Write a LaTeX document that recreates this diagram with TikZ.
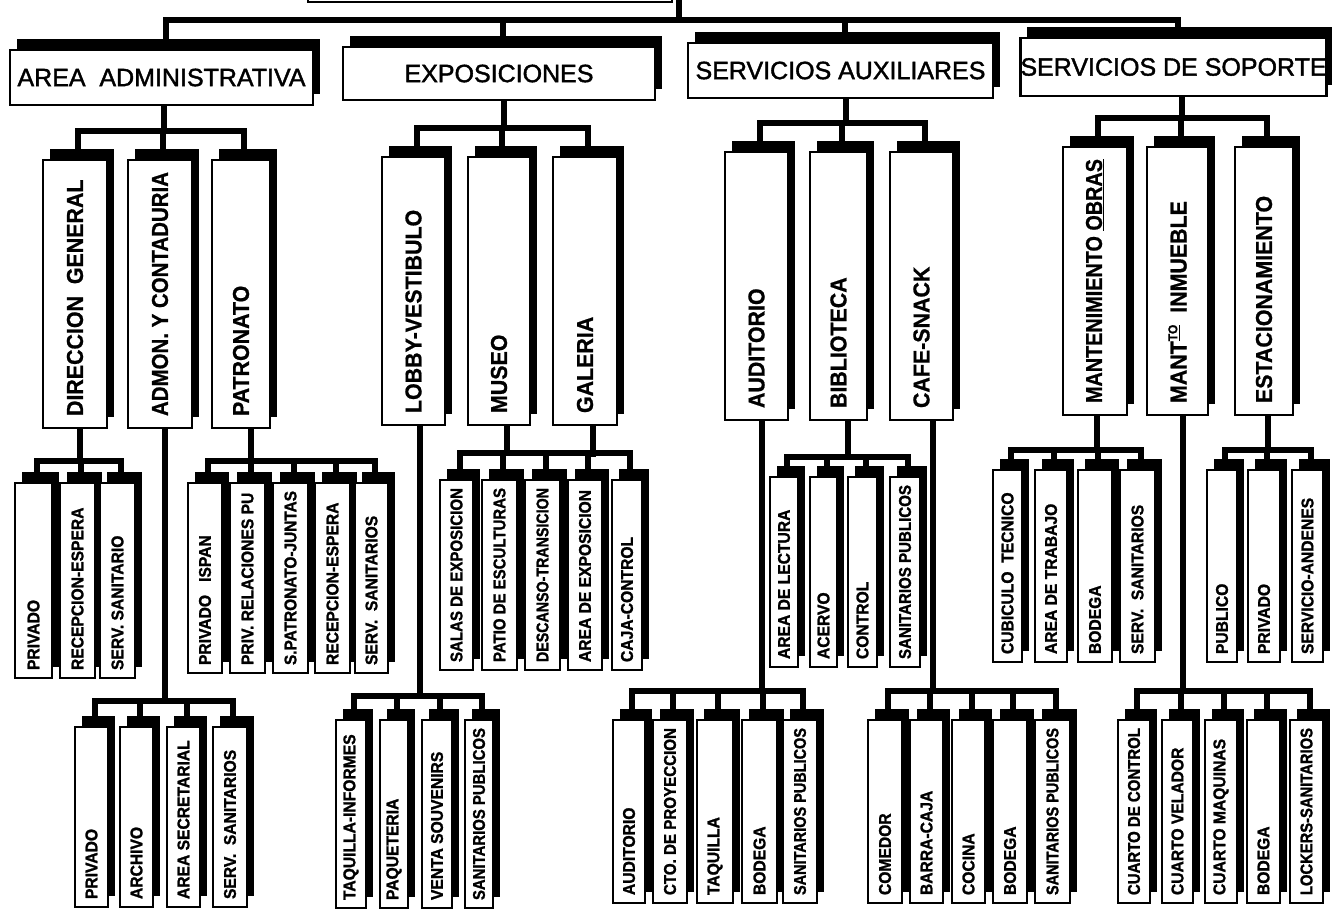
\documentclass[tikz,border=0pt]{standalone}
\usepackage{fontspec}
\usepackage{graphicx}
\usetikzlibrary{shadows,backgrounds}
\newfontfamily\fone[FakeBold=1.6]{Liberation Sans}
\newfontfamily\ftwo[FakeStretch=0.93,FakeBold=0.8]{Liberation Sans}
\newfontfamily\fthree[FakeStretch=0.92,FakeBold=1.4]{Liberation Sans}
\newsavebox\tbox
\newlength\tlen
\newcommand\fitt[2]{\setlength\tlen{#1}\sbox\tbox{#2}\ifdim\wd\tbox>\tlen\resizebox{\tlen}{\ht\tbox}{\usebox\tbox}\else\makebox[\tlen][l]{\usebox\tbox}\fi}
\newcommand\HB[7]{\node[#1, minimum width={(#4-#3)*1pt}, minimum height={(#6-#5)*1pt}] (#2) at ({(#3+#4)/2},{(#5+#6)/2}) {#7};}
\newcommand\VB[8]{\node[#1, minimum width={(#4-#3)*1pt}, minimum height={(#6-#5)*1pt}] (#2) at ({(#3+#4)/2},{(#5+#6)/2}) {\rotatebox{90}{\fitt{\dimexpr#6pt-#5pt-#7pt-#7pt\relax}{#8}}};}
\newcommand\fan[4]{\draw[conn] ([xshift=#2]#1.south) coordinate (fp) -- (fp |- 0,#3);
  \foreach \c in {#4}{\draw[conn] (fp |- 0,#3) -| ([xshift=3pt]\c.north);}}
\tikzset{
  box/.style={draw, fill=white, inner sep=0pt,
    drop shadow={shadow xshift=7pt, shadow yshift=11pt, opacity=1, fill=black}},
  topbox/.style={box, line width=2.2pt, font=\fone\fontsize{25}{26}\selectfont},
  lvtwo/.style={box, line width=2.2pt, font=\ftwo\bfseries\fontsize{23}{24}\selectfont},
  lvthree/.style={box, line width=2.8pt, font=\fthree\bfseries\fontsize{17}{17}\selectfont},
  conn/.style={line width=6pt, line cap=rect},
}
\begin{document}
\begin{tikzpicture}[x=1pt,y=-1pt]
\useasboundingbox (0,0) rectangle (1332,911);
% root and top level
\HB{topbox}{R}{308}{672}{-80}{2}{}
\coordinate (rootc) at (679,-3);
\HB{topbox}{T1}{10}{313}{50}{105}{AREA\ \ ADMINISTRATIVA}
\HB{topbox}{T2}{343}{655}{47}{100}{EXPOSICIONES}
\HB{topbox}{T3}{688}{993}{43}{98}{SERVICIOS AUXILIARES}
\HB{topbox}{T4}{1023}{1324}{38}{96}{SERVICIOS DE SOPORTE}
% level 2
\VB{lvtwo}{A1}{43}{107}{160}{428}{12}{DIRECCION\ \ GENERAL}
\VB{lvtwo}{A2}{128}{192}{160}{428}{12}{ADMON. Y CONTADURIA}
\VB{lvtwo}{A3}{212}{270}{160}{428}{12}{PATRONATO}
\VB{lvtwo}{E1}{382}{445}{157}{425}{12}{LOBBY-VESTIBULO}
\VB{lvtwo}{E2}{468}{530}{157}{425}{12}{MUSEO}
\VB{lvtwo}{E3}{553}{617}{157}{425}{12}{GALERIA}
\VB{lvtwo}{S1}{725}{788}{152}{420}{12}{AUDITORIO}
\VB{lvtwo}{S2}{810}{867}{152}{420}{12}{BIBLIOTECA}
\VB{lvtwo}{S3}{890}{953}{152}{420}{12}{CAFE-SNACK}
\VB{lvtwo}{P1}{1063}{1127}{147}{415}{12}{MANTENIMIENTO \underline{OBRAS}}
\VB{lvtwo}{P2}{1147}{1208}{147}{415}{12}{MANT\raisebox{0.4em}{\fontsize{13}{13}\selectfont\underline{TO}}\ \ INMUEBLE}
\VB{lvtwo}{P3}{1235}{1293}{147}{415}{12}{ESTACIONAMIENTO}
% level 3 upper
\VB{lvthree}{a11}{15}{52}{483}{678}{8}{PRIVADO}
\VB{lvthree}{a12}{60}{95}{483}{678}{8}{RECEPCION-ESPERA}
\VB{lvthree}{a13}{100}{135}{483}{678}{8}{SERV. SANITARIO}
\VB{lvthree}{a31}{188}{222}{483}{673}{8}{PRIVADO\ \ \ ISPAN}
\VB{lvthree}{a32}{230}{265}{483}{673}{8}{PRIV. RELACIONES PU}
\VB{lvthree}{a33}{273}{308}{483}{673}{8}{S.PATRONATO-JUNTAS}
\VB{lvthree}{a34}{315}{350}{483}{673}{8}{RECEPCION-ESPERA}
\VB{lvthree}{a35}{355}{388}{483}{673}{8}{SERV.\ \ SANITARIOS}
\VB{lvthree}{e21}{440}{473}{480}{670}{8}{SALAS DE EXPOSICION}
\VB{lvthree}{e22}{482}{517}{480}{670}{8}{PATIO DE ESCULTURAS}
\VB{lvthree}{e23}{525}{560}{480}{670}{8}{DESCANSO-TRANSICION}
\VB{lvthree}{e24}{568}{602}{480}{670}{8}{AREA DE EXPOSICION}
\VB{lvthree}{e25}{612}{642}{480}{670}{8}{CAJA-CONTROL}
\VB{lvthree}{s21}{770}{798}{477}{667}{8}{AREA DE LECTURA}
\VB{lvthree}{s22}{810}{837}{477}{667}{8}{ACERVO}
\VB{lvthree}{s23}{848}{877}{477}{667}{8}{CONTROL}
\VB{lvthree}{s24}{890}{920}{477}{667}{8}{SANITARIOS PUBLICOS}
\VB{lvthree}{p11}{993}{1022}{470}{662}{8}{CUBICULO\ \ TECNICO}
\VB{lvthree}{p12}{1035}{1067}{470}{662}{8}{AREA DE TRABAJO}
\VB{lvthree}{p13}{1078}{1112}{470}{662}{8}{BODEGA}
\VB{lvthree}{p14}{1120}{1155}{470}{662}{8}{SERV.\ \ SANITARIOS}
\VB{lvthree}{p31}{1207}{1237}{470}{662}{8}{PUBLICO}
\VB{lvthree}{p32}{1248}{1280}{470}{662}{8}{PRIVADO}
\VB{lvthree}{p33}{1292}{1323}{470}{662}{8}{SERVICIO-ANDENES}
% level 3 lower
\VB{lvthree}{a21}{75}{108}{727}{907}{8}{PRIVADO}
\VB{lvthree}{a22}{120}{153}{727}{907}{8}{ARCHIVO}
\VB{lvthree}{a23}{167}{200}{727}{907}{8}{AREA SECRETARIAL}
\VB{lvthree}{a24}{213}{247}{727}{907}{8}{SERV.\ \ SANITARIOS}
\VB{lvthree}{e11}{336}{366}{720}{908}{8}{TAQUILLA-INFORMES}
\VB{lvthree}{e12}{380}{408}{720}{908}{8}{PAQUETERIA}
\VB{lvthree}{e13}{422}{452}{720}{908}{8}{VENTA SOUVENIRS}
\VB{lvthree}{e14}{465}{493}{720}{908}{8}{SANITARIOS PUBLICOS}
\VB{lvthree}{s11}{613}{645}{720}{903}{8}{AUDITORIO}
\VB{lvthree}{s12}{653}{687}{720}{903}{8}{CTO. DE PROYECCION}
\VB{lvthree}{s13}{697}{733}{720}{903}{8}{TAQUILLA}
\VB{lvthree}{s14}{742}{777}{720}{903}{8}{BODEGA}
\VB{lvthree}{s15}{783}{817}{720}{903}{8}{SANITARIOS PUBLICOS}
\VB{lvthree}{s31}{868}{902}{720}{903}{8}{COMEDOR}
\VB{lvthree}{s32}{910}{943}{720}{903}{8}{BARRA-CAJA}
\VB{lvthree}{s33}{952}{985}{720}{903}{8}{COCINA}
\VB{lvthree}{s34}{993}{1027}{720}{903}{8}{BODEGA}
\VB{lvthree}{s35}{1035}{1070}{720}{903}{8}{SANITARIOS PUBLICOS}
\VB{lvthree}{p21}{1118}{1150}{720}{903}{8}{CUARTO DE CONTROL}
\VB{lvthree}{p22}{1162}{1193}{720}{903}{8}{CUARTO VELADOR}
\VB{lvthree}{p23}{1205}{1237}{720}{903}{8}{CUARTO MAQUINAS}
\VB{lvthree}{p24}{1247}{1280}{720}{903}{8}{BODEGA}
\VB{lvthree}{p25}{1290}{1323}{720}{903}{8}{LOCKERS-SANITARIOS}
% connectors
\begin{pgfonlayer}{background}
\draw[conn] (rootc) -- (rootc |- 0,20);
\foreach \t in {T1,T2,T3,T4}{\draw[conn] (rootc |- 0,20) -| ([xshift=4pt]\t.north);}
\fan{T1}{2pt}{131}{A1,A2,A3}
\fan{T2}{5pt}{128}{E1,E2,E3}
\fan{T3}{5pt}{123}{S1,S2,S3}
\fan{T4}{8pt}{118}{P1,P2,P3}
\fan{A1}{5pt}{461}{a11,a12,a13}
\fan{A3}{10pt}{461}{a31,a32,a33,a34,a35}
\fan{E2}{8pt}{453}{e21,e22,e23,e24,e25}
\draw[conn] ([xshift=8pt]E3.south) -- ++(0,28);
\fan{S2}{9pt}{457}{s21,s22,s23,s24}
\fan{P1}{2pt}{450}{p11,p12,p13,p14}
\fan{P3}{4pt}{450}{p31,p32,p33}
\fan{A2}{5pt}{701}{a21,a22,a23,a24}
\fan{E1}{6pt}{696}{e11,e12,e13,e14}
\fan{S1}{5pt}{691}{s11,s12,s13,s14,s15}
\fan{S3}{11pt}{691}{s31,s32,s33,s34,s35}
\fan{P2}{5pt}{691}{p21,p22,p23,p24,p25}
\end{pgfonlayer}
\end{tikzpicture}
\end{document}
